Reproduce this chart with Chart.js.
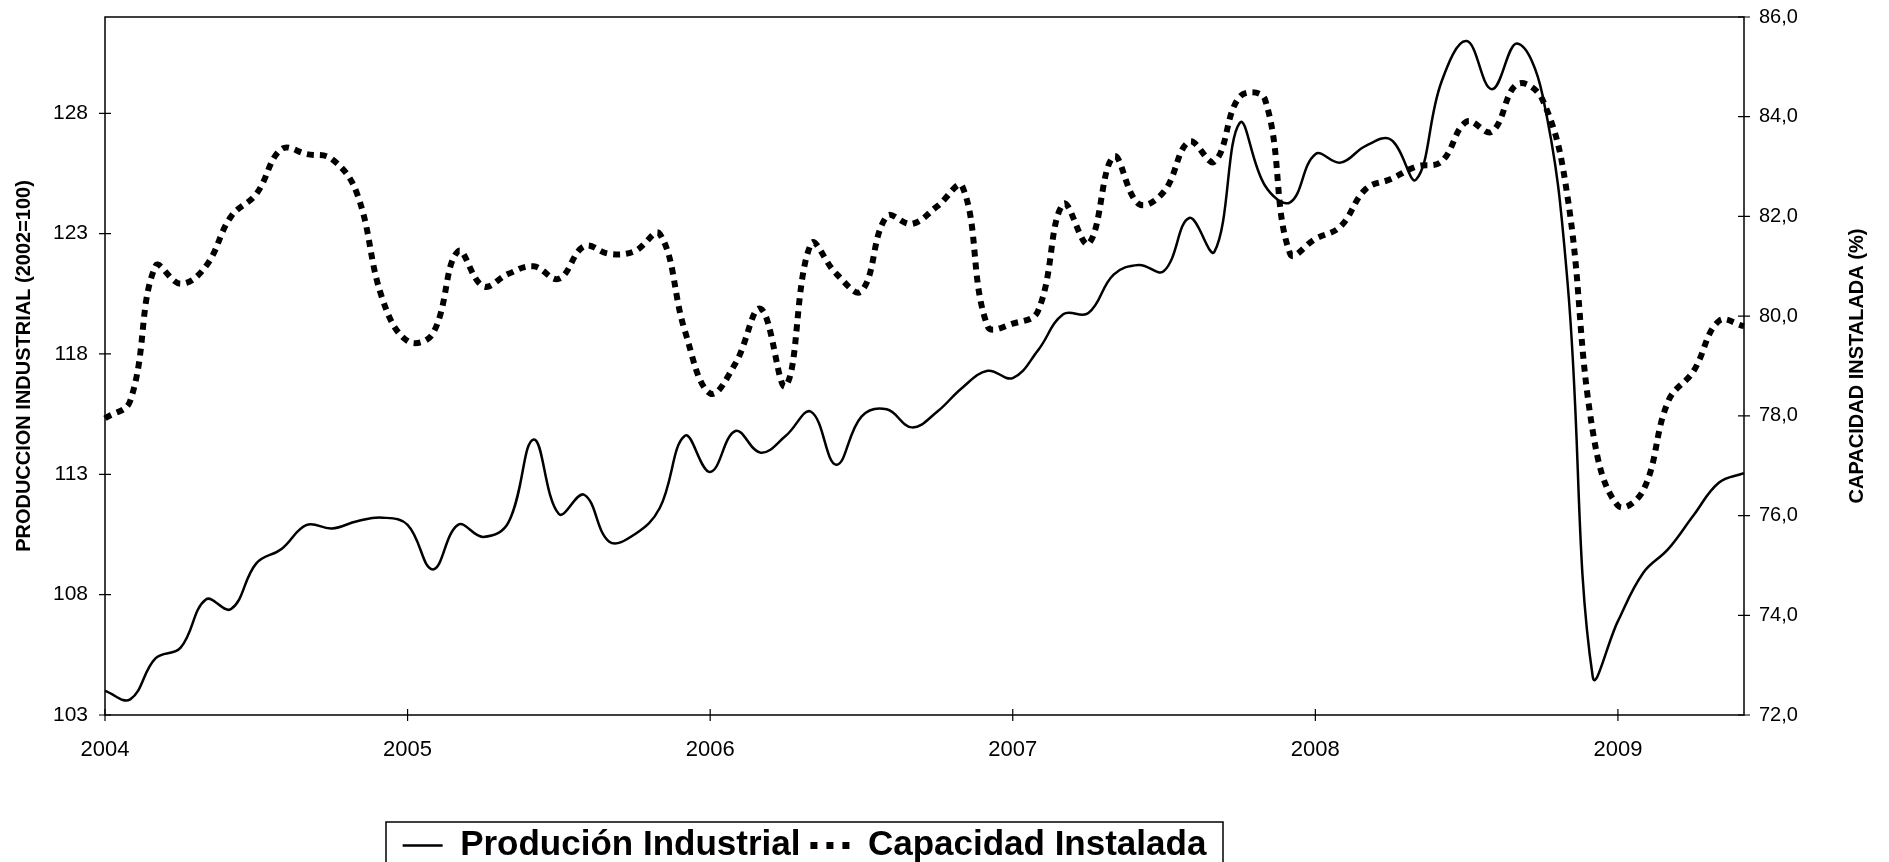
<!DOCTYPE html>
<html>
<head>
<meta charset="utf-8">
<title>Producción Industrial y Capacidad Instalada</title>
<script src="https://cdn.jsdelivr.net/npm/chart.js@4.4.0/dist/chart.umd.min.js"></script>
<style>
  html, body { margin: 0; padding: 0; background: #fff; }
  #wrap { width: 1889px; height: 862px; position: relative; }
</style>
</head>
<body>
<div id="wrap"><canvas id="chart"></canvas></div>
<script>
const yearLabels = ['2004', '2005', '2006', '2007', '2008', '2009'];
const monthNames = ['Ene', 'Feb', 'Mar', 'Abr', 'May', 'Jun', 'Jul', 'Ago', 'Sep', 'Oct', 'Nov', 'Dic'];

// monthly, Jan 2004 .. Jun 2009
const months = [];
yearLabels.forEach(y => monthNames.forEach(m => months.push(m + '-' + y)));
months.length = 66;

// Producción industrial (2002=100), left axis
const produccion = [
    104.0, 103.65, 105.35, 105.8, 107.8, 107.4, 109.3, 109.9, 110.9, 110.75, 111.05, 111.2,
    110.9, 109.05, 110.9, 110.4, 111.0, 114.45, 111.35, 112.15, 110.2, 110.5, 111.6, 114.6,
    113.1, 114.8, 113.9, 114.6, 115.6, 113.4, 115.4, 115.7, 114.95, 115.6, 116.6, 117.3,
    117.0, 118.15, 119.65, 119.7, 121.3, 121.7, 121.45, 123.65, 122.25, 127.6, 125.0, 124.3,
    126.3, 125.95, 126.65, 126.9, 125.25, 129.3, 131.0, 129.0, 130.9, 128.8, 121.0, 104.6,
    106.9, 108.9, 109.9, 111.3, 112.65, 113.05
];

// Capacidad instalada (%), right axis
const capacidad = [
    77.95, 78.3, 81.0, 80.65, 81.0, 82.0, 82.45, 83.35, 83.25, 83.15, 82.45, 80.35,
    79.5, 79.65, 81.3, 80.6, 80.85, 81.0, 80.75, 81.4, 81.25, 81.3, 81.65, 79.7,
    78.45, 79.05, 80.15, 78.6, 81.45, 80.85, 80.5, 82.0, 81.85, 82.2, 82.6, 79.8,
    79.85, 80.1, 82.25, 81.45, 83.2, 82.25, 82.5, 83.5, 83.1, 84.4, 84.35, 81.25,
    81.55, 81.8, 82.55, 82.75, 83.0, 83.1, 83.9, 83.7, 84.65, 84.35, 82.4, 77.7,
    76.2, 76.5, 78.3, 78.9, 79.9, 79.8
];

const leftTicks = [103, 108, 113, 118, 123, 128];
const rightTicks = [72, 74, 76, 78, 80, 82, 84, 86];

Chart.defaults.font.family = "'Liberation Sans', Arial, sans-serif";
Chart.defaults.color = '#000';

// frame round the plot, ticks crossing the axes, right title, legend box
const framePlugin = {
    id: 'frame',
    afterLayout(chart, args, opts) {
        const lg = chart.legend;
        if (!lg) return;
        lg.left = opts.legendLeft;
        lg.right = opts.legendRight;
        lg.width = opts.legendRight - opts.legendLeft;
        lg.top = opts.legendTop - 4;
    },
    afterDraw(chart, args, opts) {
        const {ctx, chartArea: a, scales} = chart;
        ctx.save();
        ctx.strokeStyle = '#000';
        ctx.lineWidth = 1.5;
        ctx.strokeRect(a.left, a.top, a.right - a.left, a.bottom - a.top);

        ctx.beginPath();
        scales.y.ticks.forEach(t => {
            const py = scales.y.getPixelForValue(t.value);
            ctx.moveTo(a.left - 6, py);
            ctx.lineTo(a.left + 6, py);
        });
        scales.y1.ticks.forEach(t => {
            const py = scales.y1.getPixelForValue(t.value);
            ctx.moveTo(a.right - 6, py);
            ctx.lineTo(a.right + 6, py);
        });
        yearLabels.forEach((y, i) => {
            const px = scales.x.getPixelForValue(i * 12);
            ctx.moveTo(px, a.bottom - 6);
            ctx.lineTo(px, a.bottom + 6);
        });
        ctx.lineWidth = 1.2;
        ctx.stroke();

        // right axis title reads bottom to top
        ctx.translate(opts.rightTitleX, (a.top + a.bottom) / 2);
        ctx.rotate(-Math.PI / 2);
        ctx.font = "bold 20px 'Liberation Sans', Arial, sans-serif";
        ctx.textAlign = 'center';
        ctx.textBaseline = 'middle';
        ctx.fillStyle = '#000';
        ctx.fillText('CAPACIDAD INSTALADA (%)', 0, 0);
        ctx.restore();

        ctx.save();
        ctx.strokeStyle = '#000';
        ctx.lineWidth = 1.5;
        ctx.strokeRect(opts.legendLeft, opts.legendTop, opts.legendRight - opts.legendLeft, 80);
        ctx.restore();
    }
};

const legendLabels = chart => {
    const items = Chart.defaults.plugins.legend.labels.generateLabels(chart);
    return items.map((item, i) => {
        const ds = chart.data.datasets[i];
        item.lineWidth = ds.borderDash ? 7 : 2.5;
        item.lineDash = ds.borderDash ? [7, 9] : [];
        item.strokeStyle = '#000';
        return item;
    });
};

// keep the plot flush with the layout padding
const noVerticalPadding = s => {
    s.paddingTop = 0;
    s.paddingBottom = 0;
};

new Chart(document.getElementById('chart'), {
    type: 'line',
    data: {
        labels: months,
        datasets: [
            {
                label: 'Produción Industrial',
                data: produccion,
                yAxisID: 'y',
                borderColor: '#000',
                backgroundColor: '#000',
                borderWidth: 2.5,
                pointRadius: 0,
                pointStyle: 'line',
                tension: 0.4,
                fill: false
            },
            {
                label: 'Capacidad Instalada',
                data: capacidad,
                yAxisID: 'y1',
                borderColor: '#000',
                backgroundColor: '#000',
                borderWidth: 6,
                borderDash: [7, 6],
                borderCapStyle: 'butt',
                pointRadius: 0,
                pointStyle: 'line',
                tension: 0.4,
                fill: false
            }
        ]
    },
    options: {
        responsive: true,
        maintainAspectRatio: false,
        animation: false,
        layout: { padding: { top: 17, left: 0, right: 0, bottom: 0 } },
        plugins: {
            tooltip: { enabled: false },
            legend: {
                position: 'bottom',
                labels: {
                    usePointStyle: true,
                    pointStyleWidth: 40,
                    padding: 10,
                    color: '#000',
                    font: { size: 35, weight: 'bold' },
                    generateLabels: legendLabels
                }
            },
            frame: {
                legendLeft: 386,
                legendRight: 1223,
                legendTop: 822,
                rightTitleX: 1857
            }
        },
        scales: {
            x: {
                type: 'category',
                grid: { display: false, drawTicks: false },
                border: { display: false },
                ticks: {
                    autoSkip: false,
                    maxRotation: 0,
                    padding: 22,
                    font: { size: 22 },
                    callback: (v, i) => (i % 12 === 0 ? yearLabels[i / 12] : null)
                },
                afterFit: s => { s.height = 92; }
            },
            y: {
                position: 'left',
                min: 103,
                max: 132,
                grid: { display: false, drawTicks: false },
                border: { display: false },
                afterBuildTicks: s => { s.ticks = leftTicks.map(v => ({ value: v })); },
                ticks: { padding: 17, font: { size: 21 } },
                title: {
                    display: true,
                    text: 'PRODUCCION INDUSTRIAL (2002=100)',
                    font: { size: 20, weight: 'bold' },
                    padding: { top: 12, bottom: 0 }
                },
                afterFit: s => { s.width = 105; noVerticalPadding(s); }
            },
            y1: {
                position: 'right',
                min: 72,
                max: 86,
                grid: { display: false, drawTicks: false },
                border: { display: false },
                afterBuildTicks: s => { s.ticks = rightTicks.map(v => ({ value: v })); },
                ticks: {
                    padding: 15,
                    font: { size: 20 },
                    callback: v => v.toFixed(1).replace('.', ',')
                },
                afterFit: s => { s.width = 145; noVerticalPadding(s); }
            }
        }
    },
    plugins: [framePlugin]
});
</script>
</body>
</html>
